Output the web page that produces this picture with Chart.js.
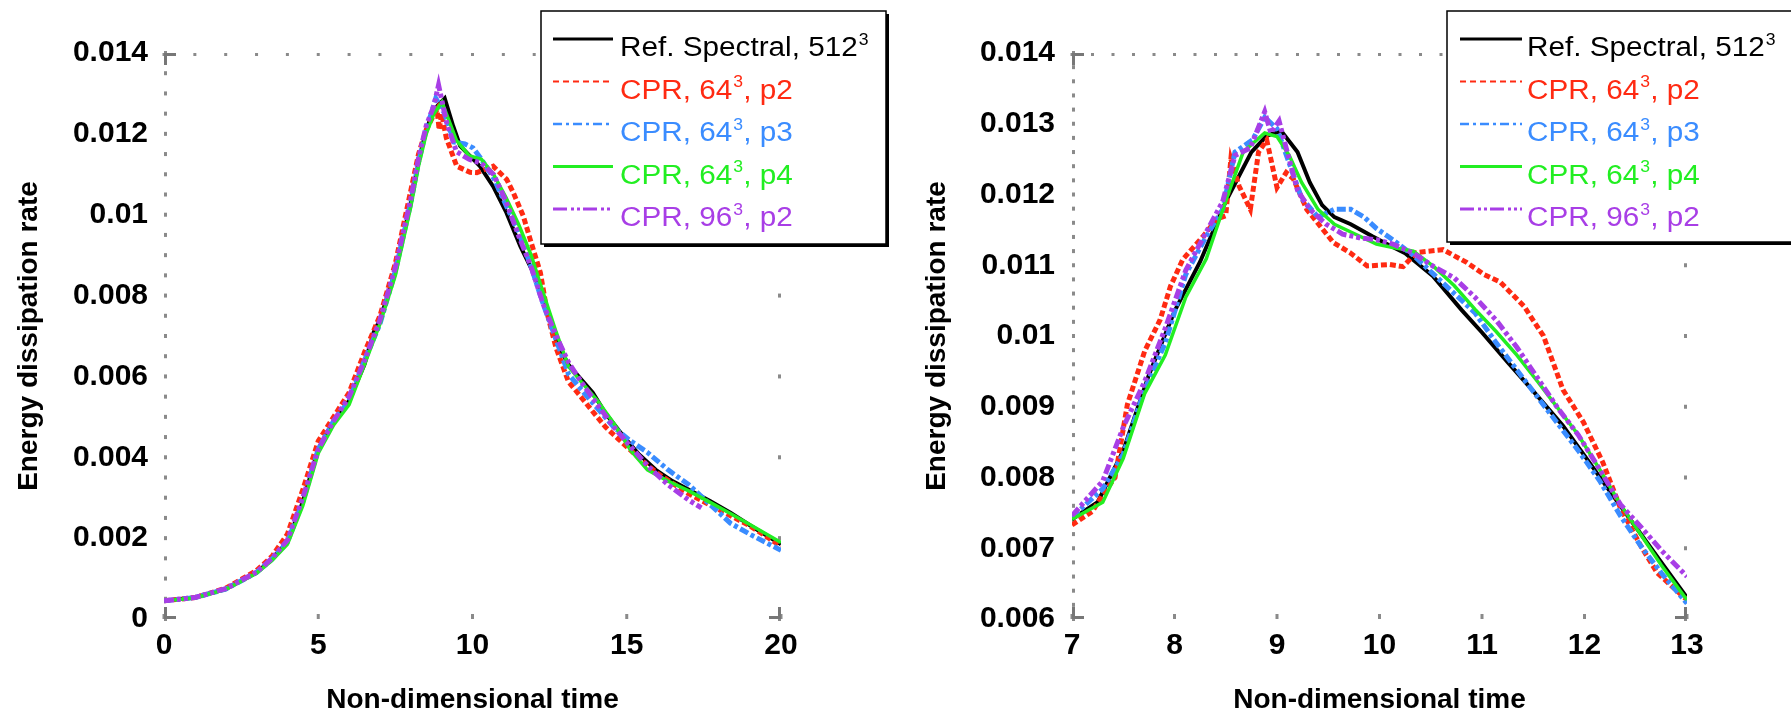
<!DOCTYPE html>
<html>
<head>
<meta charset="utf-8">
<script src="https://cdn.jsdelivr.net/npm/chart.js@4.4.1/dist/chart.umd.min.js"></script>
<style>
  html, body { margin: 0; padding: 0; background: #fff; }
  #wrap { position: relative; width: 1791px; height: 717px; overflow: hidden; background: #fff; }
  #left-chart { position: absolute; left: 0; top: 0; }
  #right-chart { position: absolute; left: 896px; top: 0; }
</style>
</head>
<body>
<div id="wrap">
  <canvas id="left-chart" width="896" height="717"></canvas>
  <canvas id="right-chart" width="895" height="717"></canvas>
</div>
<script>
'use strict'

// **** DATA: LEFT PANEL (t = 0..20) ****
let lBlackT = [0, 1, 2, 3, 3.5, 4, 4.5, 5, 5.5, 6, 6.5, 6.8, 7, 7.5, 8, 8.25, 8.5, 8.75, 9.1, 9.37, 9.6, 10.24, 10.67, 11.1, 11.55, 11.97, 12.4, 12.71, 13.1, 13.5, 13.9, 14.3, 14.86, 15.4, 15.94, 16.48, 17.0, 17.7, 18.36, 19.03, 20];
let lBlackV = [0.00045, 0.00053, 0.00074, 0.00115, 0.00148, 0.0019, 0.0029, 0.0042, 0.0049, 0.0054, 0.0063, 0.0071, 0.0074, 0.0086, 0.0103, 0.0113, 0.0121, 0.0126, 0.01288, 0.0122, 0.0117, 0.0112, 0.0107, 0.01005, 0.00922, 0.00857, 0.00774, 0.0069, 0.0063, 0.00595, 0.0056, 0.0051, 0.00455, 0.00407, 0.00369, 0.00341, 0.0032, 0.00292, 0.00263, 0.0023, 0.00185];

let lRedT = [0, 1, 2, 3, 3.5, 4, 4.5, 5, 5.5, 6, 6.5, 7, 7.5, 8, 8.25, 8.5, 8.7, 8.85, 8.92, 9.0, 9.15, 9.49, 9.92, 10.14, 10.67, 11.11, 11.32, 11.65, 11.87, 12.2, 12.44, 12.71, 13.11, 13.52, 13.92, 14.32, 14.73, 15.4, 16, 17, 18, 19, 20];
let lRedV = [0.00045, 0.00053, 0.00076, 0.0012, 0.00155, 0.0021, 0.0032, 0.0044, 0.005, 0.0056, 0.0066, 0.0075, 0.0088, 0.0106, 0.0115, 0.0121, 0.0124, 0.0126, 0.0121, 0.0125, 0.0119, 0.0112, 0.01105, 0.01104, 0.0112, 0.01087, 0.01055, 0.00996, 0.00939, 0.00857, 0.0075, 0.0067, 0.00587, 0.00549, 0.00511, 0.00474, 0.00445, 0.00398, 0.0036, 0.0031, 0.0027, 0.0023, 0.0018];

let lBlueT = [0, 1, 2, 3, 3.5, 4, 4.5, 5, 5.5, 6, 6.5, 7, 7.5, 8, 8.25, 8.5, 8.81, 9.1, 9.4, 9.75, 10.02, 10.29, 10.69, 11.09, 11.5, 11.9, 12.3, 12.71, 13.11, 13.52, 14.05, 14.59, 15.13, 15.67, 16.34, 17.01, 17.69, 18.36, 19.03, 20];
let lBlueV = [0.00045, 0.00053, 0.00074, 0.00115, 0.00148, 0.0019, 0.0029, 0.0042, 0.0049, 0.0054, 0.0064, 0.0073, 0.0086, 0.0103, 0.0113, 0.0121, 0.01288, 0.0125, 0.0118, 0.01175, 0.01165, 0.01137, 0.0109, 0.01023, 0.00956, 0.00871, 0.00777, 0.00691, 0.00606, 0.00568, 0.00521, 0.00474, 0.0044, 0.00412, 0.00369, 0.00332, 0.00284, 0.00237, 0.00208, 0.0017];

let lGreenT = [0, 1, 2, 3, 3.5, 4, 4.5, 5, 5.5, 6, 6.5, 7, 7.5, 8, 8.25, 8.5, 8.75, 9.01, 9.48, 9.89, 10.29, 10.69, 11.09, 11.5, 11.9, 12.3, 12.71, 13.11, 13.52, 14.05, 14.59, 15.13, 15.67, 16.34, 17.01, 17.69, 18.36, 19.03, 20];
let lGreenV = [0.00045, 0.00052, 0.00073, 0.00113, 0.00145, 0.00185, 0.0028, 0.0041, 0.0048, 0.0053, 0.0063, 0.0073, 0.0085, 0.0102, 0.0112, 0.012, 0.0125, 0.01279, 0.01184, 0.01146, 0.01137, 0.01099, 0.01042, 0.00975, 0.009, 0.00805, 0.0071, 0.00625, 0.00587, 0.0054, 0.00483, 0.00417, 0.00369, 0.00341, 0.00317, 0.00289, 0.00261, 0.00232, 0.00189];

let lPurpleT = [0, 1, 2, 3, 3.5, 4, 4.5, 5, 5.5, 6, 6.5, 7, 7.5, 8, 8.25, 8.5, 8.75, 8.9, 9.15, 9.48, 9.89, 10.29, 10.69, 11.09, 11.5, 11.9, 12.3, 12.71, 13.11, 13.52, 14.05, 14.59, 15.13, 15.67, 16.34, 17.01, 17.42];
let lPurpleV = [0.00045, 0.00053, 0.00075, 0.00116, 0.0015, 0.00195, 0.003, 0.0042, 0.0049, 0.0055, 0.0064, 0.0074, 0.0087, 0.0104, 0.0114, 0.0122, 0.0127, 0.01321, 0.01231, 0.01156, 0.01137, 0.01127, 0.01099, 0.01032, 0.00947, 0.00871, 0.00777, 0.00701, 0.00635, 0.00587, 0.0053, 0.00474, 0.00426, 0.00379, 0.00332, 0.00294, 0.00275];

// **** DATA: RIGHT PANEL (zoom, t = 7..13) ****
let rBlackT = [7, 7.25, 7.5, 7.75, 8, 8.25, 8.5, 8.75, 8.9, 9.04, 9.2, 9.32, 9.44, 9.56, 9.72, 9.93, 10.1, 10.25, 10.52, 10.8, 11.0, 11.25, 11.5, 11.79, 12.0, 12.25, 12.5, 12.75, 13];
let rBlackV = [0.00741, 0.00765, 0.00838, 0.00945, 0.01035, 0.01105, 0.0119, 0.0126, 0.01283, 0.0129, 0.0126, 0.01217, 0.01185, 0.01168, 0.01158, 0.01141, 0.01128, 0.01117, 0.01085, 0.01037, 0.01005, 0.00963, 0.00922, 0.00873, 0.00831, 0.0078, 0.0073, 0.0068, 0.0063];

let rRedT = [7, 7.2, 7.3, 7.42, 7.54, 7.71, 7.86, 7.96, 8.08, 8.28, 8.41, 8.5, 8.55, 8.63, 8.74, 8.82, 8.9, 9.0, 9.09, 9.16, 9.29, 9.55, 9.71, 9.88, 10.1, 10.23, 10.36, 10.62, 10.85, 11.02, 11.18, 11.41, 11.6, 11.79, 11.99, 12.18, 12.35, 12.55, 12.71, 13];
let rRedV = [0.00733, 0.00752, 0.00776, 0.008, 0.00903, 0.00979, 0.01023, 0.0107, 0.01108, 0.01141, 0.01165, 0.0117, 0.0125, 0.01212, 0.01179, 0.0126, 0.01277, 0.0121, 0.01231, 0.01222, 0.01179, 0.01132, 0.01118, 0.01099, 0.01101, 0.01098, 0.01118, 0.01122, 0.01104, 0.01087, 0.01076, 0.01042, 0.01, 0.00924, 0.00878, 0.00821, 0.00757, 0.00703, 0.00665, 0.00627];

let rBlueT = [7, 7.3, 7.5, 7.71, 7.91, 8.11, 8.31, 8.47, 8.59, 8.76, 8.88, 9.0, 9.12, 9.24, 9.4, 9.56, 9.72, 9.85, 9.97, 10.13, 10.33, 10.53, 10.73, 10.93, 11.14, 11.34, 11.54, 11.74, 11.94, 12.15, 12.35, 12.55, 12.75, 13];
let rBlueV = [0.00744, 0.00784, 0.00833, 0.00925, 0.0099, 0.01087, 0.01141, 0.01179, 0.0126, 0.01277, 0.01309, 0.01293, 0.01244, 0.01195, 0.01168, 0.01179, 0.01179, 0.01168, 0.01152, 0.01136, 0.01114, 0.01087, 0.0106, 0.01033, 0.0099, 0.00952, 0.00914, 0.00876, 0.00838, 0.00795, 0.00746, 0.00703, 0.00665, 0.00622];

let rGreenT = [7, 7.3, 7.5, 7.71, 7.91, 8.11, 8.31, 8.51, 8.67, 8.88, 9.0, 9.12, 9.24, 9.4, 9.56, 9.72, 9.97, 10.13, 10.33, 10.53, 10.73, 10.93, 11.14, 11.34, 11.54, 11.74, 11.94, 12.15, 12.35, 12.55, 12.75, 13];
let rGreenV = [0.00741, 0.00765, 0.00827, 0.00919, 0.00973, 0.01055, 0.01109, 0.01195, 0.0126, 0.01287, 0.01282, 0.01255, 0.01217, 0.01179, 0.01158, 0.01147, 0.0113, 0.01125, 0.0112, 0.01098, 0.01071, 0.01038, 0.01006, 0.00973, 0.00936, 0.00898, 0.0086, 0.00811, 0.00762, 0.00719, 0.00676, 0.00627];

let rPurpleT = [7, 7.3, 7.5, 7.71, 7.91, 8.11, 8.31, 8.47, 8.59, 8.74, 8.88, 8.94, 9.02, 9.1, 9.2, 9.32, 9.48, 9.64, 9.8, 9.97, 10.13, 10.33, 10.53, 10.73, 10.93, 11.14, 11.34, 11.54, 11.74, 11.94, 12.15, 12.35, 12.55, 12.75, 13];
let rPurpleV = [0.00746, 0.00795, 0.00871, 0.00936, 0.01011, 0.01093, 0.01147, 0.0119, 0.01255, 0.01266, 0.01317, 0.01287, 0.01304, 0.0126, 0.01206, 0.01179, 0.01158, 0.01144, 0.01139, 0.01136, 0.0113, 0.01117, 0.01098, 0.01082, 0.01055, 0.01022, 0.00984, 0.00941, 0.00898, 0.0086, 0.00811, 0.00762, 0.0073, 0.00697, 0.0066];

// **** LEGEND TEXT ****
let legendMain = ['Ref. Spectral, 512', 'CPR, 64', 'CPR, 64', 'CPR, 64', 'CPR, 96'];
let legendSup = ['3', '3', '3', '3', '3'];
let legendTail = ['', ', p2', ', p3', ', p4', ', p2'];

// **** STYLES ****
const FONT = "'Liberation Sans', Arial, Helvetica, sans-serif";
let seriesStyle = [
  { color: '#000000', width: 4, dash: [], legendWidth: 3, legendDash: [] },
  { color: '#ff2a12', width: 5, dash: [6, 3], legendWidth: 2, legendDash: [6, 4] },
  { color: '#3a8cff', width: 5, dash: [9, 3, 4, 3], legendWidth: 2.5, legendDash: [9, 4, 3, 4] },
  { color: '#22ee22', width: 3.5, dash: [], legendWidth: 3, legendDash: [] },
  { color: '#a83ee6', width: 5, dash: [10, 3, 4, 3, 4, 3], legendWidth: 3, legendDash: [14, 4, 3, 3, 3, 3] }
];

Chart.defaults.font.family = FONT;

// **** HELPERS ****
function toPoints(times, values) {
  return times.map((t, i) => ({ x: t, y: values[i] }));
}

function buildDatasets(series) {
  return series.map((s, i) => ({
    label: legendMain[i] + legendSup[i] + legendTail[i],
    data: toPoints(s[0], s[1]),
    borderColor: seriesStyle[i].color,
    backgroundColor: seriesStyle[i].color,
    borderWidth: seriesStyle[i].width,
    borderDash: seriesStyle[i].dash,
    borderCapStyle: 'butt',
    pointRadius: 0,
    tension: 0,
    fill: false,
    order: 5 - i
  }));
}

function tickText(value) {
  return String(Number(value.toFixed(3)));
}

function drawLegend(ctx, lg) {
  ctx.save();
  // shadow on the right and bottom
  ctx.fillStyle = '#000';
  ctx.fillRect(lg.left + 3, lg.bottom, lg.right - lg.left, 3);
  ctx.fillRect(lg.right, lg.top + 3, 3, lg.bottom - lg.top);
  ctx.fillStyle = '#fff';
  ctx.fillRect(lg.left, lg.top, lg.right - lg.left, lg.bottom - lg.top);
  ctx.strokeStyle = '#000';
  ctx.lineWidth = 1.5;
  ctx.strokeRect(lg.left, lg.top, lg.right - lg.left, lg.bottom - lg.top);

  for (let i = 0; i < legendMain.length; i++) {
    let y = lg.firstRow + i * lg.rowGap;
    let st = seriesStyle[i];
    ctx.beginPath();
    ctx.setLineDash(st.legendDash);
    ctx.lineWidth = st.legendWidth;
    ctx.strokeStyle = st.color;
    ctx.moveTo(lg.lineX0, y);
    ctx.lineTo(lg.lineX1, y);
    ctx.stroke();
    ctx.setLineDash([]);

    ctx.save();
    ctx.translate(lg.textX, y + 17);
    ctx.scale(1.1, 1.03);
    ctx.fillStyle = st.color;
    ctx.textBaseline = 'alphabetic';
    ctx.font = '27px ' + FONT;
    ctx.fillText(legendMain[i], 0, 0);
    let w = ctx.measureText(legendMain[i]).width;
    ctx.font = '16px ' + FONT;
    ctx.fillText(legendSup[i], w + 1, -11);
    let sw = ctx.measureText(legendSup[i]).width;
    ctx.font = '27px ' + FONT;
    ctx.fillText(legendTail[i], w + sw + 1, 0);
    ctx.restore();
  }
  ctx.restore();
}

// tick dots / corner marks and the legend box
const matlabAxes = {
  id: 'matlabAxes',
  beforeDatasetsDraw(chart, args, opts) {
    const { ctx, chartArea: a } = chart;
    const x = chart.scales.x;
    const y = chart.scales.y;
    ctx.save();
    ctx.fillStyle = '#8a8a8a';
    let nY = Math.round((y.max - y.min) / opts.minorY);
    for (let k = 0; k <= nY; k++) {
      let py = y.getPixelForValue(y.min + k * opts.minorY);
      ctx.fillRect(a.left, py - 2, 3, 4);
    }
    let nX = Math.round((x.max - x.min) / opts.minorX);
    for (let k = 0; k <= nX; k++) {
      let px = x.getPixelForValue(x.min + k * opts.minorX);
      ctx.fillRect(px - 1.5, a.top, 3, 3);
    }
    y.ticks.forEach(t => {
      let py = y.getPixelForValue(t.value);
      ctx.fillRect(a.right - 3, py - 2, 3, 4);
    });
    x.ticks.forEach(t => {
      let px = x.getPixelForValue(t.value);
      ctx.fillRect(px - 1.5, a.bottom - 5, 3, 5);
    });
    ctx.fillStyle = '#777';
    ctx.fillRect(a.left, a.top, 12, 3);
    ctx.fillRect(a.left, a.top, 3, 12);
    ctx.fillRect(a.left, a.bottom - 12, 3, 12);
    ctx.fillRect(a.left, a.bottom - 3, 12, 3);
    ctx.fillRect(a.right - 12, a.bottom - 3, 12, 3);
    ctx.fillRect(a.right - 3, a.bottom - 12, 3, 12);
    ctx.restore();
  },
  afterDraw(chart, args, opts) {
    drawLegend(chart.ctx, opts.legend);
  }
};

function makeChart(canvasId, series, cfg) {
  let ctx = document.getElementById(canvasId);
  return new Chart(ctx, {
    type: 'line',
    data: { datasets: buildDatasets(series) },
    options: {
      responsive: false,
      animation: false,
      devicePixelRatio: 1,
      layout: { padding: { left: 0, right: cfg.padRight, top: 53, bottom: 0 } },
      plugins: {
        legend: { display: false },
        tooltip: { enabled: false },
        matlabAxes: cfg.decor
      },
      scales: {
        x: {
          type: 'linear',
          min: cfg.xMin,
          max: cfg.xMax,
          grid: { display: false, drawTicks: false },
          border: { display: false },
          afterFit: s => { s.height = 98; },
          ticks: {
            stepSize: cfg.xStep,
            padding: 9,
            color: '#000',
            font: { size: 30, weight: 'bold' },
            maxRotation: 0
          },
          title: {
            display: true,
            text: 'Non-dimensional time',
            color: '#000',
            font: { size: 28, weight: 'bold' },
            padding: { top: 0, bottom: 0 }
          }
        },
        y: {
          type: 'linear',
          min: cfg.yMin,
          max: cfg.yMax,
          grid: { display: false, drawTicks: false },
          border: { display: false },
          afterFit: s => { s.width = cfg.yWidth; },
          ticks: {
            stepSize: cfg.yStep,
            padding: cfg.yPad,
            color: '#000',
            font: { size: 30, weight: 'bold' },
            callback: v => tickText(v)
          },
          title: {
            display: true,
            text: 'Energy dissipation rate',
            color: '#000',
            font: { size: 28, weight: 'bold' },
            padding: { top: cfg.yTitlePad, bottom: 0 }
          }
        }
      }
    },
    plugins: [matlabAxes]
  });
}

// **** EXECUTABLE CODE ****
makeChart('left-chart', [
  [lBlackT, lBlackV], [lRedT, lRedV], [lBlueT, lBlueV], [lGreenT, lGreenV], [lPurpleT, lPurpleV]
], {
  xMin: 0, xMax: 20, xStep: 5,
  yMin: 0, yMax: 0.014, yStep: 0.002,
  yWidth: 164, yPad: 16, yTitlePad: 12, padRight: 115,
  decor: {
    minorX: 1, minorY: 0.0005,
    legend: { left: 541, top: 11, right: 886, bottom: 244, firstRow: 39, rowGap: 42.5, lineX0: 553, lineX1: 613, textX: 620 }
  }
});

makeChart('right-chart', [
  [rBlackT, rBlackV], [rRedT, rRedV], [rBlueT, rBlueV], [rGreenT, rGreenV], [rPurpleT, rPurpleV]
], {
  xMin: 7, xMax: 13, xStep: 1,
  yMin: 0.006, yMax: 0.014, yStep: 0.001,
  yWidth: 176, yPad: 17, yTitlePad: 24, padRight: 104,
  decor: {
    minorX: 0.2, minorY: 0.0002,
    legend: { left: 551, top: 11, right: 910, bottom: 242, firstRow: 39, rowGap: 42.5, lineX0: 564, lineX1: 626, textX: 631 }
  }
});
</script>
</body>
</html>
